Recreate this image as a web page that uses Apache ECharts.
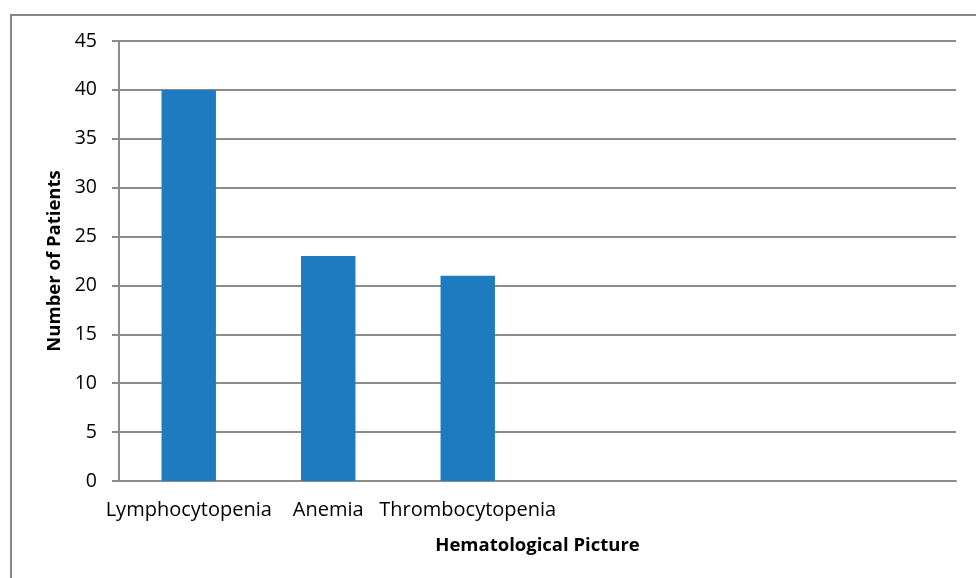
<!DOCTYPE html>
<html><head><meta charset="utf-8">
<script src="https://cdn.jsdelivr.net/npm/echarts@6/dist/echarts.min.js"></script>
<style>html,body{margin:0;padding:0;background:#fff}#c{width:976px;height:578px}</style>
</head><body><div id="c"></div>
<script>
var categories = ["Lymphocytopenia", "Anemia", "Thrombocytopenia", "", "", ""];
var patients = [40, 23, 21, null, null, null];
var yTicks = {min: 0, max: 45, interval: 5};
var xTitle = "Hematological Picture";
var yTitle = "Number of Patients";

var chart = echarts.init(document.getElementById('c'));
chart.setOption({
  animation: false,
  graphic: [{type: 'rect', shape: {x: 11, y: 15, width: 990, height: 600},
    style: {fill: 'none', stroke: '#878787', lineWidth: 2}, z: -1}],
  grid: {left: 119, right: 20, top: 41, bottom: 97},
  xAxis: {
    type: 'category', data: categories,
    name: xTitle, nameLocation: 'middle', nameGap: 55,
    nameTextStyle: {fontFamily: 'Open Sans', fontWeight: 'bold', fontSize: 18.5, color: '#000'},
    axisLine: {lineStyle: {color: '#8c8c8c', width: 2}},
    axisTick: {show: false},
    axisLabel: {interval: 0, fontFamily: 'Open Sans', fontSize: 20, color: '#000', margin: 19}
  },
  yAxis: {
    type: 'value', min: yTicks.min, max: yTicks.max, interval: yTicks.interval,
    name: yTitle, nameLocation: 'middle', nameGap: 55,
    nameTextStyle: {fontFamily: 'Open Sans', fontWeight: 'bold', fontSize: 18.5, color: '#000'},
    axisLine: {show: true, lineStyle: {color: '#8c8c8c', width: 2}},
    axisTick: {show: true, length: 7, lineStyle: {color: '#8c8c8c', width: 2}},
    splitLine: {lineStyle: {color: '#8c8c8c', width: 2}},
    axisLabel: {fontFamily: 'Open Sans', fontSize: 19.5, color: '#000', margin: 22}
  },
  series: [{
    type: 'bar', data: patients, barWidth: '39%',
    itemStyle: {color: '#1f7bbf'}
  }]
});
</script></body></html>
